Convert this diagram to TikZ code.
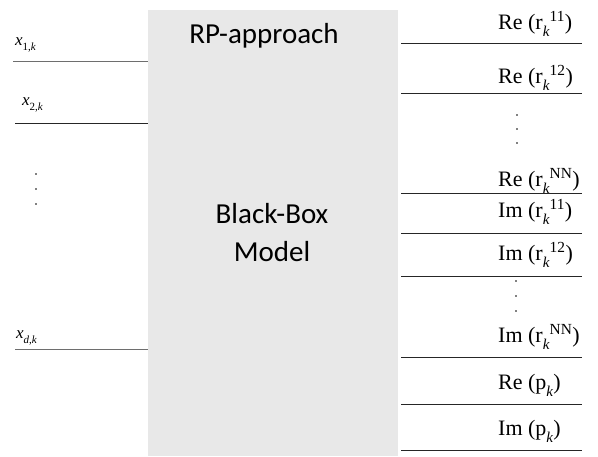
\documentclass[tikz,border=0pt]{standalone}
\usepackage{fontspec}
\setmainfont{Liberation Serif}
\newfontfamily\boxfont{Carlito}
\usetikzlibrary{positioning}
\definecolor{boxgray}{HTML}{E8E8E8}
\definecolor{wiregray}{HTML}{6E6E6E}
% lowered index, as in the labels
\newcommand{\lowsub}[2][15]{\raisebox{-0.32em}{\fontsize{#1}{#1}\selectfont #2}}

\begin{document}
\begin{tikzpicture}[x=1pt, y=-1pt,
    model/.style={rectangle, fill=boxgray, minimum width=250pt, minimum height=446pt, inner sep=0pt, anchor=north west},
    title/.style={font=\boxfont\fontsize{29}{38}\selectfont, align=center, inner sep=0pt},
    inlab/.style={font=\fontsize{17}{20}\selectfont, anchor=base west, inner sep=0pt},
    outlab/.style={font=\fontsize{22}{26}\selectfont, anchor=base west, inner sep=0pt},
    wire/.style={line width=1pt, draw=black!85},
    dotmark/.style={circle, fill=black, inner sep=0pt, minimum size=1.6pt}]
    \useasboundingbox (0,0) rectangle (598,456);

    % black box
    \node [model] (bb) at (148,10) {};
    \node [title, anchor=base] (rp) at (264,43) {RP-approach};
    \node [title, anchor=base] (bbm) at (272,261) {Black-Box\\Model};

    % inputs
    \coordinate (i1) at (13,61);
    \coordinate (i2) at (15,123);
    \coordinate (id) at (15,349);
    \draw [wire, draw=wiregray] (i1) -- (bb.west |- i1);
    \draw [wire] (i2) -- (bb.west |- i2);
    \draw [wire, draw=wiregray] (id) -- (bb.west |- id);
    \node [inlab] (x1) at (15,45) {\textit{x}\lowsub[11]{1,\textit{k}}};
    \node [inlab] (x2) at (22,105) {\textit{x}\lowsub[11]{2,\textit{k}}};
    \node [inlab] (xd) at (16,338) {\textit{x}\lowsub[11]{\textit{d},\textit{k}}};
    \node [dotmark] (ld1) at (36,174) {};
    \node [dotmark] (ld2) at (36,189) {};
    \node [dotmark] (ld3) at (36,204) {};

    % outputs
    \coordinate (o1) at (582,43);
    \coordinate (o2) at (582,93);
    \coordinate (o3) at (582,193);
    \coordinate (o4) at (582,233);
    \coordinate (o5) at (582,276);
    \coordinate (o6) at (582,357);
    \coordinate (o7) at (582,404);
    \coordinate (o8) at (582,450);
    \draw [wire] ([xshift=3pt]bb.east |- o1) -- (o1);
    \draw [wire] ([xshift=3pt]bb.east |- o2) -- (o2);
    \draw [wire] ([xshift=3pt]bb.east |- o3) -- (o3);
    \draw [wire] ([xshift=3pt]bb.east |- o4) -- (o4);
    \draw [wire] ([xshift=3pt]bb.east |- o5) -- (o5);
    \draw [wire] ([xshift=3pt]bb.east |- o6) -- (o6);
    \draw [wire] ([xshift=3pt]bb.east |- o7) -- (o7);
    \draw [wire] ([xshift=3pt]bb.east |- o8) -- (o8);
    \node [outlab] (re11) at (498,29) {Re (r\lowsub{\textit{k}}\textsuperscript{11})};
    \node [outlab] (re12) at (498,83) {Re (r\lowsub{\textit{k}}\textsuperscript{12})};
    \node [dotmark] (rd1) at (517,115) {};
    \node [dotmark] (rd2) at (517,129) {};
    \node [dotmark] (rd3) at (517,143) {};
    \node [outlab] (renn) at (498,186) {Re (r\lowsub{\textit{k}}\textsuperscript{NN})};
    \node [outlab] (im11) at (498,217) {Im (r\lowsub{\textit{k}}\textsuperscript{11})};
    \node [outlab] (im12) at (498,260) {Im (r\lowsub{\textit{k}}\textsuperscript{12})};
    \node [dotmark] (rd4) at (516,281) {};
    \node [dotmark] (rd5) at (516,296) {};
    \node [dotmark] (rd6) at (516,311) {};
    \node [outlab] (imnn) at (498,342) {Im (r\lowsub{\textit{k}}\textsuperscript{NN})};
    \node [outlab] (rep) at (498,389) {Re (p\lowsub{\textit{k}})};
    \node [outlab] (imp) at (498,435) {Im (p\lowsub{\textit{k}})};
\end{tikzpicture}
\end{document}
